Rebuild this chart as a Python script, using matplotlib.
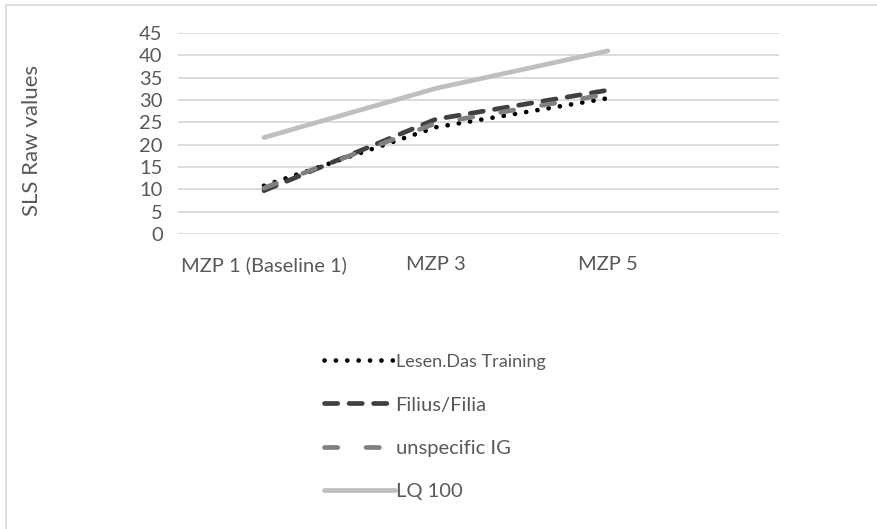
import matplotlib
matplotlib.use("Agg")
import matplotlib.pyplot as plt
from matplotlib.patches import Rectangle

categories = ["MZP 1 (Baseline 1)", "MZP 3", "MZP 5"]
series_names = ["Lesen.Das Training", "Filius/Filia", "unspecific IG", "LQ 100"]
lesen = [10.8, 23.9, 30.4]
filius = [9.7, 25.7, 32.2]
unspecific = [10.3, 24.8, 31.3]
lq100 = [21.6, 32.6, 41.0]
yticks = [0, 5, 10, 15, 20, 25, 30, 35, 40, 45]

plt.rcParams['font.family'] = ['Lato', 'DejaVu Sans']
txt = '#595959'
W, H = 878, 529
fig = plt.figure(figsize=(W/100, H/100), dpi=100)
ax = fig.add_axes([178/W, 1-234/H, (779-178)/W, (234-33)/H])

lw = 3.4
x = list(range(len(categories)))
styles = [
    dict(color='#000000', dashes=(0.01, 2.4)),
    dict(color='#404040', dashes=(2.8, 2.4)),
    dict(color='#808080', dashes=(2.8, 6.0)),
    dict(color='#bfbfbf', dashes=None),
]
handles = []
for vals, name, st in zip([lesen, filius, unspecific, lq100], series_names, styles):
    if st['dashes'] is None:
        ln, = ax.plot(x, vals, color=st['color'], lw=lw, solid_capstyle='round', label=name)
    else:
        ln, = ax.plot(x, vals, color=st['color'], lw=lw, dashes=st['dashes'],
                      dash_capstyle='round', label=name)
    handles.append(ln)

fs = 14.5
ax.set_xlim(-0.5, 2.995)
ax.set_ylim(0, 45)
ax.set_yticks(yticks)
ax.set_xticks(x)
ax.set_xticklabels(categories)
ax.tick_params(axis='both', length=0, labelsize=fs, colors=txt)
ax.tick_params(axis='y', pad=11)
ax.tick_params(axis='x', pad=16)
for s in ax.spines.values():
    s.set_visible(False)
ax.yaxis.grid(True, color='#d9d9d9', lw=1.3)
ax.set_axisbelow(True)
ax.set_ylabel("SLS Raw values", fontsize=16, color=txt)
ax.yaxis.set_label_coords((42-178)/601, (234-140)/201)

leg = fig.legend(handles=handles, loc='upper left', bbox_to_anchor=(306/W, 1-335/H),
                 frameon=False, handlelength=3.5, handletextpad=0.05,
                 labelspacing=1.3, fontsize=fs)
for t in leg.get_texts():
    t.set_color(txt)
leg.get_texts()[0].set_fontsize(13)

fig.patches.append(Rectangle((6/W, -0.1), 1.2, 1.1 - 5/H, transform=fig.transFigure,
                             fill=False, edgecolor='#d9d9d9', lw=1.2))
fig.savefig("out.png", dpi=100)
